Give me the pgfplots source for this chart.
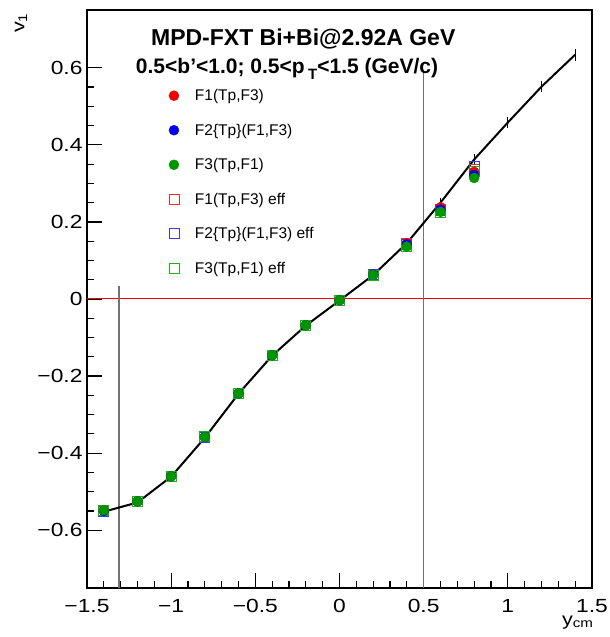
\documentclass[border=0pt]{standalone}
\usepackage{pgfplots}
\pgfplotsset{compat=1.18}
\usepackage{fontspec}
\setmainfont{Liberation Sans}
\newfontfamily\ticfont[FakeStretch=1.2]{Liberation Sans}
\definecolor{cR}{RGB}{240,0,0}
\definecolor{cB}{RGB}{0,0,240}
\definecolor{cG}{RGB}{0,150,0}
\definecolor{sR}{RGB}{225,50,50}
\definecolor{sB}{RGB}{60,60,225}
\definecolor{sG}{RGB}{30,175,30}
\begin{document}
\begin{tikzpicture}
\useasboundingbox (-87pt,-49pt) rectangle (523pt,588pt);
\begin{axis}[
  scale only axis, width=505pt, height=578pt,
  xmin=-1.5, xmax=1.5, ymin=-0.75, ymax=0.75,
  axis line style={line width=1.6pt},
  tick pos=left, tick align=inside,
  major tick length=15pt, minor tick length=7.5pt,
  every tick/.style={black, line width=1.2pt},
  xtick={-1.5,-1,-0.5,0,0.5,1,1.5},
  xticklabels={−1.5,−1,−0.5,0,0.5,1,1.5},
  minor x tick num=4,
  ytick={-0.6,-0.4,-0.2,0,0.2,0.4,0.6},
  yticklabels={−0.6,−0.4,−0.2,0,0.2,0.4,0.6},
  minor y tick num=3,
  tick label style={font=\ticfont\fontsize{19}{21}\selectfont},
  xticklabel style={yshift=-8pt},
  yticklabel style={xshift=-1pt},
  legend style={draw=none, fill=none, at={(rel axis cs:0.154,0.87)}, anchor=north west,
    font=\fontsize{15.5}{17}\selectfont, row sep=17.8pt, nodes={inner sep=2pt}},
  legend image code/.code={\path[draw=none, fill=none] (-6pt,0pt) -- (19pt,0pt); \draw[#1] plot coordinates {(0pt,0pt)};},
  legend cell align=left,
  clip=false,
]
% red horizontal line at zero
\addplot[forget plot, draw=red, line width=1pt] coordinates {(-1.5,0) (1.5,0)};
% gray vertical lines
\addplot[forget plot, draw=black!55, line width=1.6pt] coordinates {(-1.31,-0.75) (-1.31,0.035)};
\addplot[forget plot, draw=black!55, line width=1.6pt] coordinates {(0.5,-0.75) (0.5,0.595)};
% black curve with errors
\addplot[forget plot, black, line width=2pt, error bars/.cd, y dir=both, y explicit,
  error bar style={line width=1.3pt}, error mark=none] table[x=x, y=y, y error=e] {
x y e
-1.4 -0.552 0.014
-1.2 -0.528 0.010
-1.0 -0.461 0.010
-0.8 -0.360 0.010
-0.6 -0.246 0.010
-0.4 -0.147 0.009
-0.2 -0.069 0.009
0.0 -0.004 0.009
0.2 0.062 0.009
0.4 0.145 0.010
0.6 0.250 0.011
0.8 0.362 0.013
1.0 0.458 0.014
1.2 0.551 0.015
1.4 0.634 0.016
};
% open squares (eff)
\addplot[forget plot, only marks, mark=square, mark size=5pt, color=sR, mark options={draw=sR, line width=0.8pt}] table {
-1.4 -0.548
-1.2 -0.525
-1.0 -0.460
-0.8 -0.358
-0.6 -0.245
-0.4 -0.146
-0.2 -0.068
0.0 -0.003
0.2 0.063
0.4 0.143
0.6 0.233
0.8 0.337
};
\addplot[forget plot, only marks, mark=square, mark size=5pt, color=sB, mark options={draw=sB, line width=0.8pt}] table {
-1.4 -0.550
-1.2 -0.525
-1.0 -0.460
-0.8 -0.358
-0.6 -0.245
-0.4 -0.146
-0.2 -0.068
0.0 -0.003
0.2 0.063
0.4 0.142
0.6 0.230
0.8 0.343
};
\addplot[forget plot, only marks, mark=square, mark size=5pt, color=sG, mark options={draw=sG, line width=0.9pt}] table {
-1.4 -0.548
-1.2 -0.525
-1.0 -0.460
-0.8 -0.358
-0.6 -0.245
-0.4 -0.146
-0.2 -0.068
0.0 -0.003
0.2 0.062
0.4 0.137
0.6 0.225
0.8 0.330
};
% filled circles
\addplot[only marks, mark=*, mark size=5pt, color=cR, mark options={draw=cR, fill=cR},
  error bars/.cd, y dir=both, y fixed=0.012, error mark=none, error bar style={cR, line width=0.8pt}] table {
-1.4 -0.548
-1.2 -0.525
-1.0 -0.460
-0.8 -0.358
-0.6 -0.245
-0.4 -0.146
-0.2 -0.068
0.0 -0.003
0.2 0.063
0.4 0.145
0.6 0.238
0.8 0.330
};
\addlegendentry{F1(Tp,F3)}
\addplot[only marks, mark=*, mark size=5pt, color=cB, mark options={draw=cB, fill=cB},
  error bars/.cd, y dir=both, y fixed=0.012, error mark=none, error bar style={cB, line width=0.8pt}] table {
-1.4 -0.550
-1.2 -0.525
-1.0 -0.460
-0.8 -0.358
-0.6 -0.245
-0.4 -0.146
-0.2 -0.068
0.0 -0.003
0.2 0.063
0.4 0.142
0.6 0.232
0.8 0.322
};
\addlegendentry{F2\{Tp\}(F1,F3)}
\addplot[only marks, mark=*, mark size=5pt, color=cG, mark options={draw=cG, fill=cG},
  error bars/.cd, y dir=both, y fixed=0.012, error mark=none, error bar style={cG, line width=0.8pt}] table {
-1.4 -0.548
-1.2 -0.525
-1.0 -0.460
-0.8 -0.358
-0.6 -0.245
-0.4 -0.146
-0.2 -0.068
0.0 -0.003
0.2 0.062
0.4 0.136
0.6 0.226
0.8 0.314
};
\addlegendentry{F3(Tp,F1)}
\addlegendimage{only marks, mark=square, mark size=5pt, color=sR, mark options={draw=sR, line width=0.8pt}}
\addlegendentry{F1(Tp,F3) eff}
\addlegendimage{only marks, mark=square, mark size=5pt, color=sB, mark options={draw=sB, line width=0.8pt}}
\addlegendentry{F2\{Tp\}(F1,F3) eff}
\addlegendimage{only marks, mark=square, mark size=5pt, color=sG, mark options={draw=sG, line width=0.9pt}}
\addlegendentry{F3(Tp,F1) eff}
% axis titles
\node[anchor=north, inner sep=0pt, font=\ticfont\fontsize{18}{20}\selectfont] at ([xshift=-66pt,yshift=-3pt]rel axis cs:0,1) {\rotatebox{90}{v\textsubscript{1}}};
\node[anchor=north east, font=\ticfont\fontsize{18}{20}\selectfont] at ([xshift=5pt,yshift=-24pt]rel axis cs:1,0) {y\textsubscript{cm}};
% titles
\node[anchor=west, font=\bfseries\fontsize{23}{25}\selectfont] at (rel axis cs:0.12,0.95) {MPD-FXT Bi+Bi@2.92A GeV};
\node[anchor=west, font=\bfseries\fontsize{21}{23}\selectfont] at (rel axis cs:0.09,0.898) {0.5<b'<1.0; 0.5<p\,\raisebox{-6pt}{\fontsize{15}{15}\selectfont T}<1.5 (GeV/c)};
\end{axis}
\end{tikzpicture}
\end{document}
